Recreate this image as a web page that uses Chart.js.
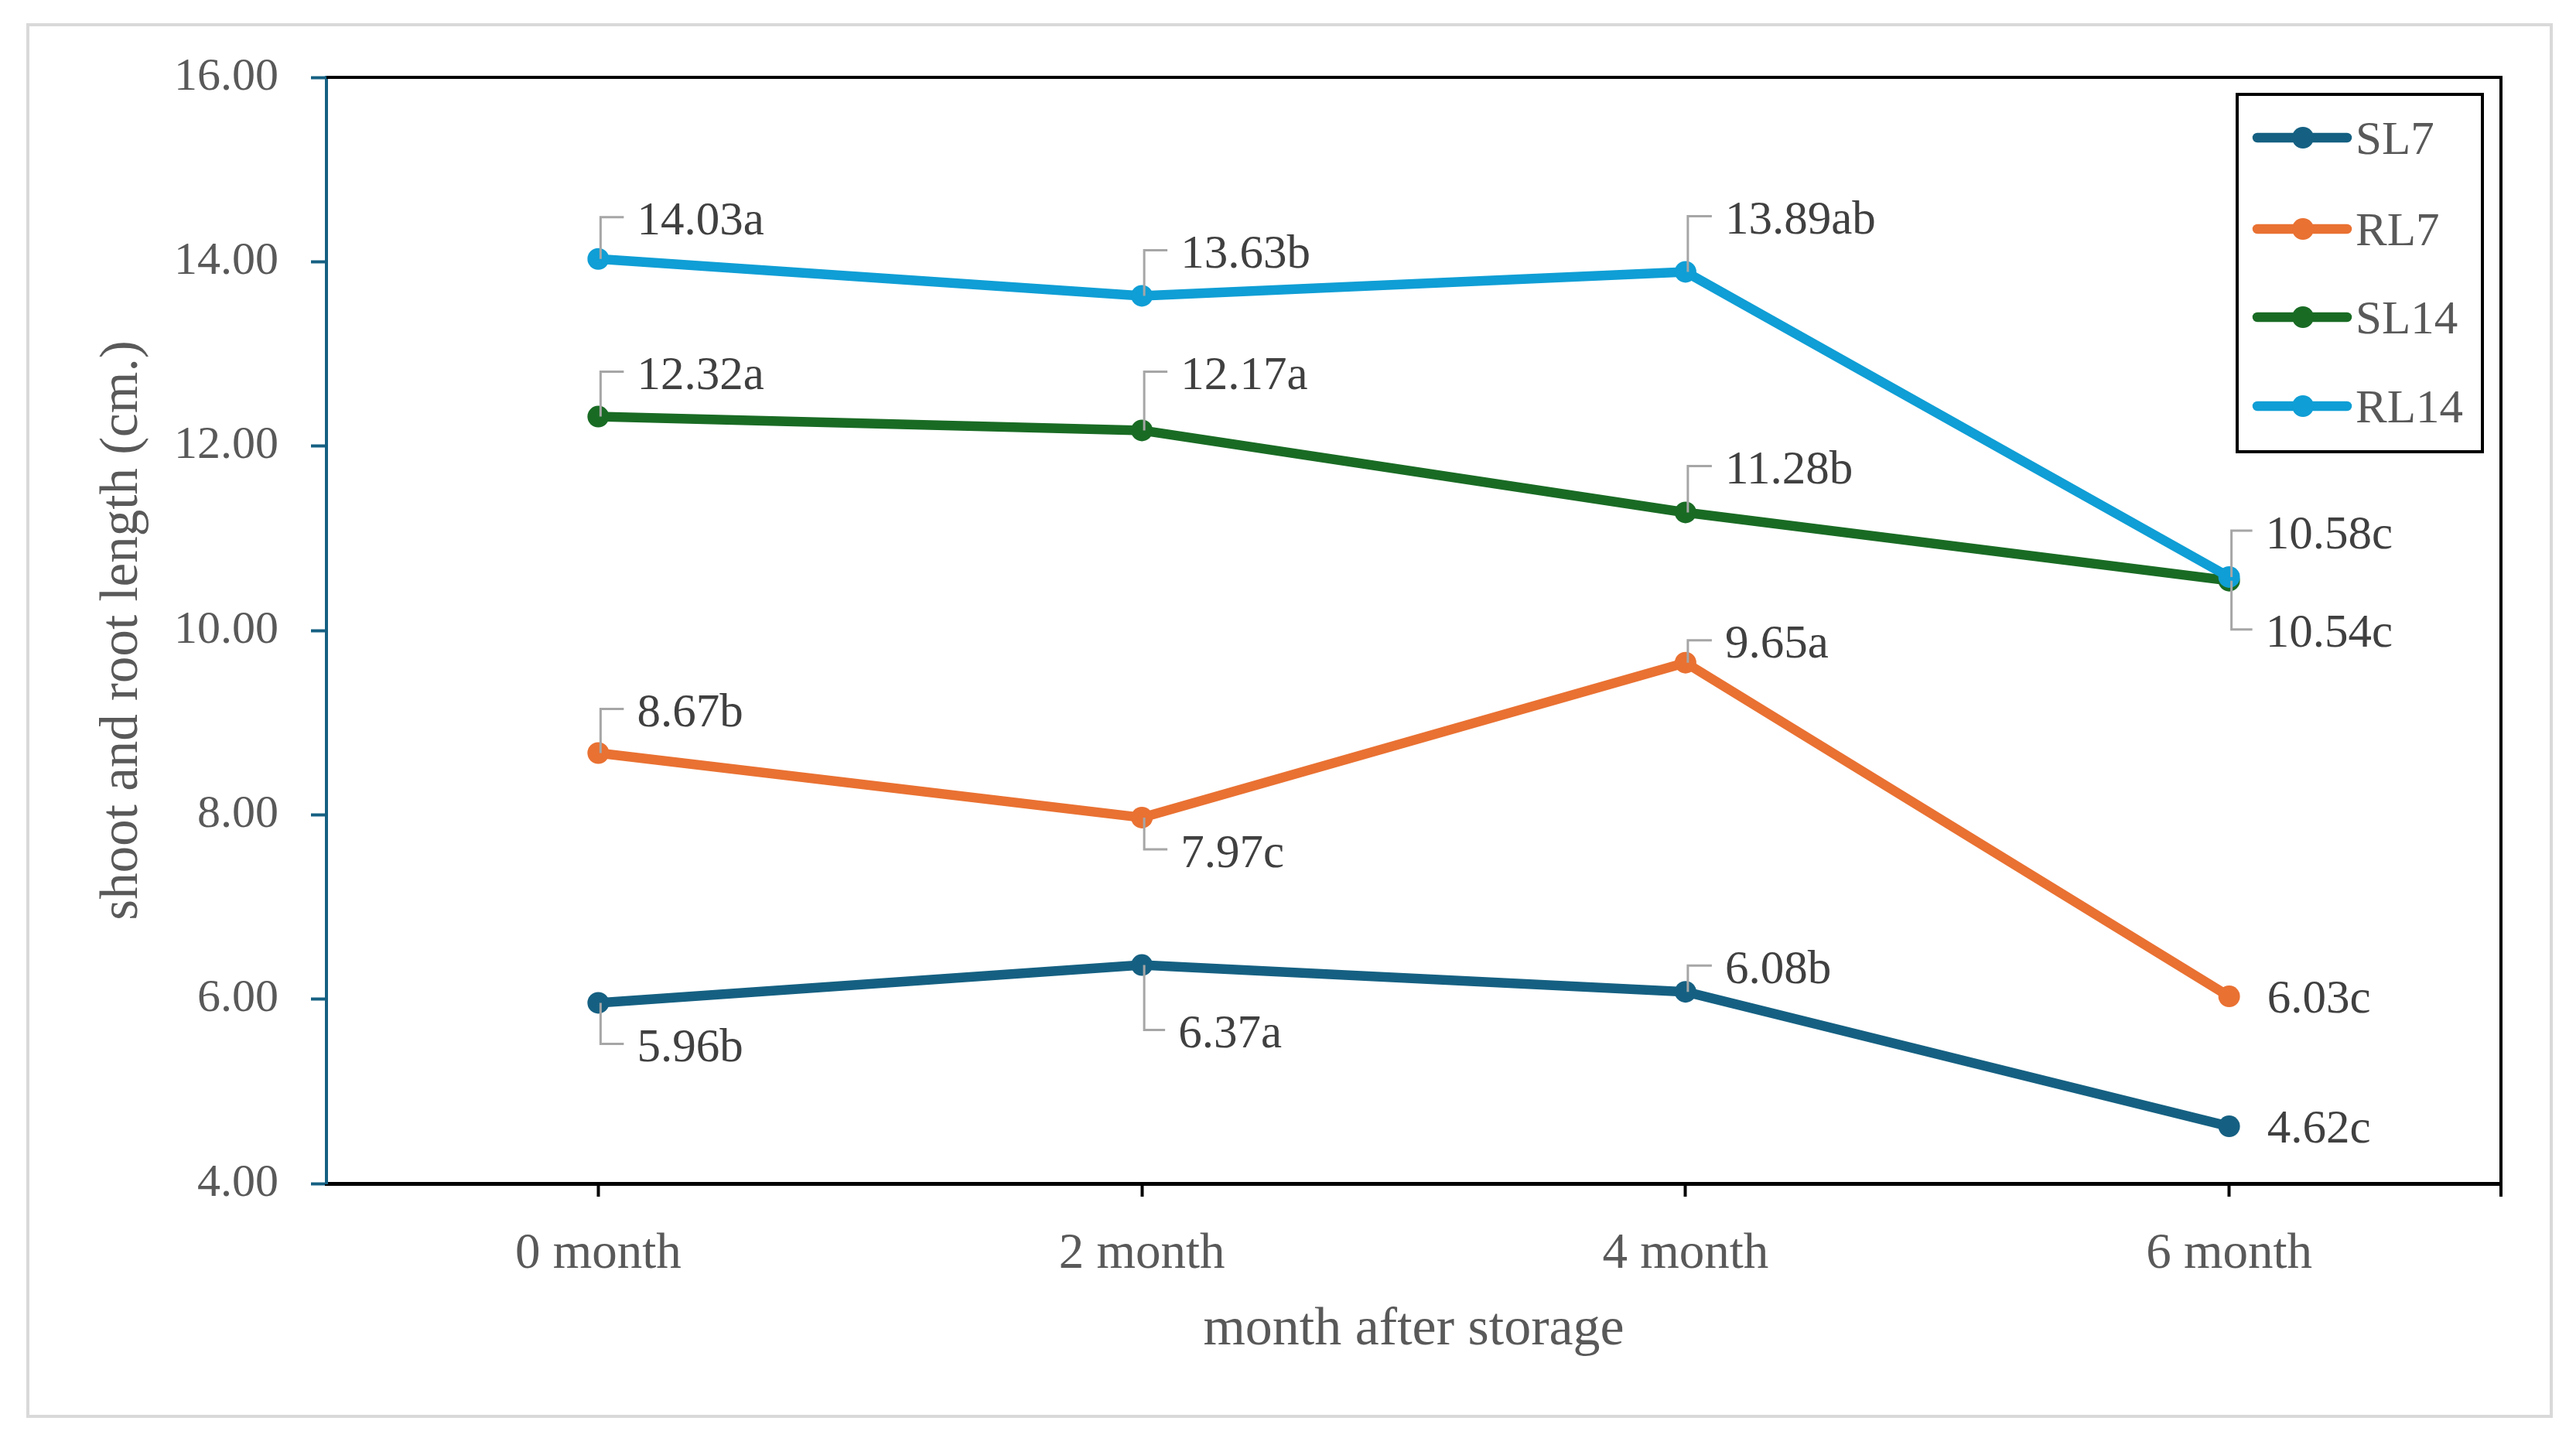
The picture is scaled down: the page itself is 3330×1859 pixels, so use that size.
<!DOCTYPE html>
<html>
<head>
<meta charset="utf-8">
<script src="https://cdn.jsdelivr.net/npm/chart.js@4.4.1/dist/chart.umd.min.js"></script>
<style>
  html, body { margin: 0; padding: 0; background: #ffffff; }
  canvas { display: block; }
</style>
</head>
<body>
<canvas id="c" width="3330" height="1859"></canvas>
<script>
// ---------- data ----------
const months = ['0 month', '2 month', '4 month', '6 month'];
const seriesNames = ['SL7', 'RL7', 'SL14', 'RL14'];
const SL7 = [5.96, 6.37, 6.08, 4.62];
const RL7 = [8.67, 7.97, 9.65, 6.03];
const SL14 = [12.32, 12.17, 11.28, 10.54];
const RL14 = [14.03, 13.63, 13.89, 10.58];
const SL7_letters = ['b', 'a', 'b', 'c'];
const RL7_letters = ['b', 'c', 'a', 'c'];
const SL14_letters = ['a', 'a', 'b', 'c'];
const RL14_letters = ['a', 'b', 'ab', 'c'];
const yMin = 4, yMax = 16, yStep = 2;
const xTitle = 'month after storage';
const yTitle = 'shoot and root length (cm.)';

// ---------- styling / layout (not data) ----------
const colors = ['#156082', '#E97132', '#196B24', '#0F9ED5'];
const FONT = "'Liberation Serif', 'Times New Roman', serif";
// label offsets [dx, dy, leader]
const SL7_labelPos = [[50, 55, 1], [47, 86, 1], [51, -32, 1], [49, 0, 0]];
const RL7_labelPos = [[50, -55, 1], [50, 43, 1], [51, -27, 1], [49, 0, 0]];
const SL14_labelPos = [[50, -56, 1], [50, -74, 1], [51, -58, 1], [47, 65, 1]];
const RL14_labelPos = [[50, -52, 1], [50, -57, 1], [51, -70, 1], [47, -58, 1]];

const seriesValues = [SL7, RL7, SL14, RL14];
const seriesLetters = [SL7_letters, RL7_letters, SL14_letters, RL14_letters];
const seriesLabelPos = [SL7_labelPos, RL7_labelPos, SL14_labelPos, RL14_labelPos];

const datasets = seriesNames.map((name, i) => ({
  label: name,
  data: seriesValues[i],
  borderColor: colors[i],
  backgroundColor: colors[i],
  pointBackgroundColor: colors[i],
  pointBorderColor: colors[i],
  pointBorderWidth: 0,
  pointRadius: 14,
  pointHoverRadius: 14,
  borderWidth: 12.5,
  borderJoinStyle: 'round',
  tension: 0,
  fill: false,
  order: seriesNames.length - 1 - i,
  letters: seriesLetters[i],
  labelPos: seriesLabelPos[i]
}));

const frame = {
  id: 'frame',
  beforeDraw(chart) {
    const ctx = chart.ctx;
    ctx.save();
    ctx.fillStyle = '#ffffff';
    ctx.fillRect(0, 0, chart.width, chart.height);
    ctx.strokeStyle = '#d9d9d9';
    ctx.lineWidth = 4;
    ctx.strokeRect(36, 32, 3262, 1799);
    ctx.restore();
  },
  afterDraw(chart) {
    const ctx = chart.ctx;
    const a = chart.chartArea;
    ctx.save();
    ctx.strokeStyle = '#000000';
    ctx.lineWidth = 4;
    ctx.beginPath();
    ctx.moveTo(a.left, a.top);
    ctx.lineTo(a.right, a.top);
    ctx.lineTo(a.right, a.bottom + 17);
    ctx.stroke();
    ctx.restore();
  }
};

const labelsPlugin = {
  id: 'dataLabels',
  afterDatasetsDraw(chart) {
    const ctx = chart.ctx;
    ctx.save();
    ctx.font = '61px ' + FONT;
    ctx.textAlign = 'left';
    ctx.textBaseline = 'alphabetic';
    chart.data.datasets.forEach((ds, di) => {
      const meta = chart.getDatasetMeta(di);
      meta.data.forEach((pt, j) => {
        const px = pt.x, py = pt.y;
        const [dx, dy, leader] = ds.labelPos[j];
        const lx = px + dx, ly = py + dy;
        if (leader) {
          ctx.strokeStyle = '#a6a6a6';
          ctx.lineWidth = 3;
          ctx.beginPath();
          ctx.moveTo(px + 3, py);
          ctx.lineTo(px + 3, ly - 2);
          ctx.lineTo(lx - 17, ly - 2);
          ctx.stroke();
        }
        ctx.fillStyle = '#404040';
        ctx.fillText(ds.data[j].toFixed(2) + ds.letters[j], lx, ly + 0.34 * 61);
      });
    });
    ctx.restore();
  }
};

const legendPlugin = {
  id: 'boxLegend',
  afterDraw(chart) {
    const ctx = chart.ctx;
    ctx.save();
    const bx = 2892, by = 122, bw = 317, bh = 462;
    ctx.strokeStyle = '#000000';
    ctx.lineWidth = 4;
    ctx.strokeRect(bx, by, bw, bh);
    const rowY = [178, 296, 410, 525];
    chart.data.datasets.forEach((ds, i) => {
      const y = rowY[i];
      ctx.strokeStyle = ds.borderColor;
      ctx.lineWidth = 12.5;
      ctx.lineCap = 'round';
      ctx.beginPath();
      ctx.moveTo(2918, y);
      ctx.lineTo(3034, y);
      ctx.stroke();
      ctx.fillStyle = ds.borderColor;
      ctx.beginPath();
      ctx.arc(2977, y, 14, 0, Math.PI * 2);
      ctx.fill();
      ctx.fillStyle = '#595959';
      ctx.font = '61px ' + FONT;
      ctx.textBaseline = 'alphabetic';
      ctx.textAlign = 'left';
      ctx.fillText(ds.label, 3045, y + 0.34 * 61);
    });
    ctx.restore();
  }
};

new Chart(document.getElementById('c'), {
  type: 'line',
  data: { labels: months, datasets: datasets },
  plugins: [frame, labelsPlugin, legendPlugin],
  options: {
    responsive: false,
    devicePixelRatio: 1,
    animation: false,
    layout: { padding: { left: 36, top: 100, right: 97, bottom: 28 } },
    plugins: { legend: { display: false }, tooltip: { enabled: false } },
    scales: {
      x: {
        type: 'category',
        offset: true,
        grid: {
          display: true,
          drawOnChartArea: false,
          drawTicks: true,
          tickLength: 17,
          tickWidth: 4,
          tickColor: '#000000',
          offset: false
        },
        border: { display: true, color: '#000000', width: 5 },
        ticks: {
          color: '#595959',
          font: { family: FONT, size: 65 },
          padding: 36,
          maxRotation: 0,
          autoSkip: false
        },
        title: {
          display: true,
          text: xTitle,
          color: '#595959',
          font: { family: FONT, size: 70 },
          padding: { top: 0, bottom: 69 }
        },
        afterFit(scale) { scale.height = 301; }
      },
      y: {
        min: yMin,
        max: yMax,
        grid: {
          display: true,
          drawOnChartArea: false,
          drawTicks: true,
          tickLength: 20,
          tickWidth: 4,
          tickColor: '#156082'
        },
        border: { display: true, color: '#156082', width: 4 },
        ticks: {
          stepSize: yStep,
          color: '#595959',
          font: { family: FONT, size: 60 },
          padding: 42,
          callback: (v) => Number(v).toFixed(2)
        },
        title: {
          display: true,
          text: yTitle,
          color: '#595959',
          font: { family: FONT, size: 69 },
          padding: { top: 81, bottom: 0 }
        },
        afterFit(scale) { scale.width = 386; }
      }
    }
  }
});
</script>
</body>
</html>
